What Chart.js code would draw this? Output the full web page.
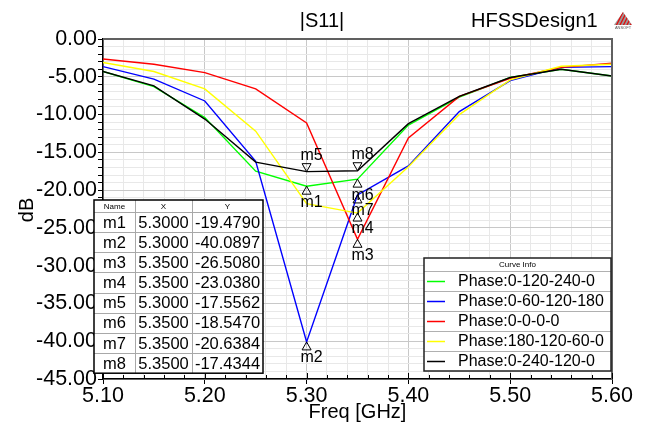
<!DOCTYPE html>
<html>
<head>
<meta charset="utf-8">
<script src="https://cdn.jsdelivr.net/npm/chart.js@4.4.1/dist/chart.umd.min.js"></script>
<style>
  html, body { margin: 0; padding: 0; background: #fff; }
  #wrap { width: 652px; height: 428px; }
</style>
</head>
<body>
<div id="wrap"><canvas id="s11Chart" width="652" height="428"></canvas></div>
<script>
// frequency sweep (GHz)
const freqs = [5.10, 5.15, 5.20, 5.25, 5.30, 5.35, 5.40, 5.45, 5.50, 5.55, 5.60];

// |S11| in dB for each phase setting
const phase0_120_240_0 = [-4.3, -6.3, -10.4, -17.5, -19.479, -18.547, -11.4, -7.7, -5.1, -4.0, -4.9];
const phase0_60_120_180 = [-3.66, -5.3, -8.2, -16.2, -40.0897, -20.6384, -16.8, -9.6, -5.5, -3.75, -3.65];
const phase0_0_0_0 = [-2.65, -3.35, -4.45, -6.6, -11.1, -26.508, -13.1, -7.6, -5.2, -3.75, -3.2];
const phase180_120_60_0 = [-3.1, -4.3, -6.6, -12.2, -21.8, -23.038, -16.9, -10.0, -5.4, -3.6, -3.35];
const phase0_240_120_0 = [-4.3, -6.2, -10.6, -16.3, -17.5562, -17.4344, -11.2, -7.6, -5.1, -4.0, -4.9];

const seriesLabels = ["Phase:0-120-240-0", "Phase:0-60-120-180", "Phase:0-0-0-0", "Phase:180-120-60-0", "Phase:0-240-120-0"];
const seriesColors = ["#00ff00", "#0000ff", "#ff0000", "#ffff00", "#000000"];

// markers (name, freq, value, drawn above the curve or below)
const markerNames = ["m1", "m2", "m3", "m4", "m5", "m6", "m7", "m8"];
const markerFreqs = [5.30, 5.30, 5.35, 5.35, 5.30, 5.35, 5.35, 5.35];
const markerValues = [-19.4790, -40.0897, -26.5080, -23.0380, -17.5562, -18.5470, -20.6384, -17.4344];
const markerAbove = [false, false, false, false, true, false, false, true];

// axis ranges
const xMin = 5.10, xMax = 5.60, xMinorStep = 0.02;
const yMin = -45, yMax = 0, yMinorStep = 1;

const FONT = 'Arial, "Liberation Sans", sans-serif';

function isMajorX(v) {
  return Math.abs(v * 10 - Math.round(v * 10)) < 1e-6;
}
function isMajorY(v) {
  return Math.abs(v / 5 - Math.round(v / 5)) < 1e-6;
}

const allSeries = [phase0_120_240_0, phase0_60_120_180, phase0_0_0_0, phase180_120_60_0, phase0_240_120_0];

const datasets = allSeries.map((vals, i) => ({
  label: seriesLabels[i],
  data: freqs.map((f, k) => ({ x: f, y: vals[k] })),
  borderColor: seriesColors[i],
  backgroundColor: seriesColors[i],
  borderWidth: 1.4,
  pointRadius: 0,
  tension: 0,
  fill: false,
  order: allSeries.length - i, // later curves drawn on top
}));

// frame, titles, markers, marker table and curve info box
const decorPlugin = {
  id: "decor",
  afterDatasetsDraw(chart) {
    const { ctx, chartArea, scales } = chart;
    const x = scales.x, y = scales.y;

    // top / right frame
    ctx.save();
    ctx.strokeStyle = "#606060";
    ctx.lineWidth = 2;
    ctx.beginPath();
    ctx.moveTo(chartArea.left, chartArea.top);
    ctx.lineTo(chartArea.right, chartArea.top);
    ctx.lineTo(chartArea.right, chartArea.bottom);
    ctx.stroke();

    // x ticks point into the plot
    ctx.strokeStyle = "#000";
    ctx.lineWidth = 1;
    ctx.beginPath();
    x.ticks.forEach((t) => {
      const px = Math.round(x.getPixelForValue(t.value)) + 0.5;
      ctx.moveTo(px, chartArea.bottom);
      ctx.lineTo(px, chartArea.bottom - (isMajorX(t.value) ? 6 : 4));
    });
    ctx.stroke();

    // markers
    ctx.fillStyle = "#000";
    ctx.font = "16px " + FONT;
    ctx.textAlign = "center";
    ctx.textBaseline = "middle";
    markerNames.forEach((name, i) => {
      const px = x.getPixelForValue(markerFreqs[i]);
      const py = y.getPixelForValue(markerValues[i]);
      const dir = markerAbove[i] ? -1 : 1;
      ctx.beginPath();
      ctx.moveTo(px, py);
      ctx.lineTo(px - 4.5, py + dir * 8);
      ctx.lineTo(px + 4.5, py + dir * 8);
      ctx.closePath();
      ctx.stroke();
      ctx.fillText(name, px + 5, py + dir * 16);
    });
    ctx.restore();

    drawMarkerTable(ctx);
    drawCurveInfo(ctx, chart);
  },
  afterDraw(chart) {
    const ctx = chart.ctx;
    ctx.save();
    ctx.fillStyle = "#000";
    ctx.font = "20px " + FONT;
    ctx.textBaseline = "alphabetic";
    ctx.textAlign = "center";
    ctx.fillText("|S11|", 322, 27);
    ctx.textAlign = "left";
    ctx.fillText("HFSSDesign1", 471, 27);

    // axis titles
    ctx.textAlign = "center";
    ctx.textBaseline = "middle";
    ctx.fillText("Freq [GHz]", (chart.chartArea.left + chart.chartArea.right) / 2, 412);
    ctx.translate(27, 210);
    ctx.rotate(-Math.PI / 2);
    ctx.fillText("dB", 0, 0);
    ctx.restore();

    drawLogo(ctx);
  },
};

function drawLogo(ctx) {
  ctx.save();
  ctx.beginPath();
  ctx.moveTo(623, 12);
  ctx.lineTo(614, 25);
  ctx.lineTo(632, 25);
  ctx.closePath();
  ctx.fillStyle = "#9a9a9a";
  ctx.fill();
  ctx.clip();
  ctx.strokeStyle = "#e01010";
  ctx.lineWidth = 1.3;
  for (let k = 0; k < 6; k++) {
    ctx.beginPath();
    ctx.moveTo(612 + k * 3.5, 27);
    ctx.lineTo(620 + k * 3.5, 11);
    ctx.stroke();
  }
  ctx.restore();
  ctx.save();
  ctx.fillStyle = "#555";
  ctx.font = "4px " + FONT;
  ctx.textAlign = "center";
  ctx.fillText("ANSOFT", 623, 29);
  ctx.restore();
}

function drawMarkerTable(ctx) {
  const cols = [94, 135, 192, 263];
  const top = 200, headH = 12, rowH = 20.15;
  const bottom = top + headH + rowH * markerNames.length;
  ctx.save();
  ctx.fillStyle = "#fff";
  ctx.fillRect(cols[0], top, cols[3] - cols[0], bottom - top);

  // inner lines
  ctx.strokeStyle = "#a8a8a8";
  ctx.lineWidth = 1;
  ctx.beginPath();
  for (let c = 1; c < 3; c++) {
    ctx.moveTo(cols[c] + 0.5, top);
    ctx.lineTo(cols[c] + 0.5, bottom);
  }
  for (let r = 0; r < markerNames.length; r++) {
    const ry = Math.round(top + headH + r * rowH) + 0.5;
    ctx.moveTo(cols[0], ry);
    ctx.lineTo(cols[3], ry);
  }
  ctx.stroke();

  ctx.strokeStyle = "#000";
  ctx.lineWidth = 1.5;
  ctx.strokeRect(cols[0], top, cols[3] - cols[0], bottom - top);

  ctx.fillStyle = "#000";
  ctx.textAlign = "center";
  ctx.textBaseline = "middle";
  ctx.font = "8px " + FONT;
  const heads = ["Name", "X", "Y"];
  heads.forEach((h, c) => ctx.fillText(h, (cols[c] + cols[c + 1]) / 2, top + headH / 2 + 0.5));

  ctx.font = "16.5px " + FONT;
  markerNames.forEach((name, r) => {
    const cy = top + headH + r * rowH + rowH / 2 + 1;
    const cells = [name, markerFreqs[r].toFixed(4), markerValues[r].toFixed(4)];
    cells.forEach((t, c) => ctx.fillText(t, (cols[c] + cols[c + 1]) / 2, cy));
  });
  ctx.restore();
}

function drawCurveInfo(ctx, chart) {
  const left = 424, right = 611, top = 258, headH = 13, rowH = 20;
  const n = chart.data.datasets.length;
  const bottom = top + headH + rowH * n;
  ctx.save();
  ctx.fillStyle = "#fff";
  ctx.fillRect(left, top, right - left, bottom - top);

  ctx.strokeStyle = "#b0b0b0";
  ctx.lineWidth = 1;
  ctx.beginPath();
  for (let r = 0; r < n; r++) {
    const ry = Math.round(top + headH + r * rowH) + 0.5;
    ctx.moveTo(left, ry);
    ctx.lineTo(right, ry);
  }
  ctx.stroke();

  ctx.strokeStyle = "#202020";
  ctx.lineWidth = 1.5;
  ctx.strokeRect(left, top, right - left, bottom - top);

  ctx.fillStyle = "#000";
  ctx.textBaseline = "middle";
  ctx.textAlign = "center";
  ctx.font = "8px " + FONT;
  ctx.fillText("Curve Info", (left + right) / 2, top + headH / 2 + 0.5);

  ctx.font = "16px " + FONT;
  ctx.textAlign = "left";
  chart.data.datasets.forEach((ds, r) => {
    const cy = top + headH + r * rowH + rowH / 2 + 0.5;
    ctx.strokeStyle = ds.borderColor;
    ctx.lineWidth = 1.5;
    ctx.beginPath();
    ctx.moveTo(427, cy);
    ctx.lineTo(445, cy);
    ctx.stroke();
    ctx.fillText(ds.label, 458, cy + 0.5);
  });
  ctx.restore();
}

const ctx = document.getElementById("s11Chart").getContext("2d");
const s11Chart = new Chart(ctx, {
  type: "line",
  data: { datasets: datasets },
  options: {
    responsive: false,
    animation: false,
    devicePixelRatio: 1,
    layout: { padding: { left: 0, top: 39, right: 40, bottom: 0 } },
    plugins: {
      legend: { display: false },
      tooltip: { enabled: false },
      title: { display: false },
    },
    scales: {
      x: {
        type: "linear",
        min: xMin,
        max: xMax,
        afterFit: (scale) => { scale.height = 49; },
        border: { color: "#000", width: 1.5 },
        grid: {
          color: (c) => (c.tick && isMajorX(c.tick.value) ? "#c8c8c8" : "#e8e8e8"),
          tickColor: (c) => (c.tick && isMajorX(c.tick.value) ? "#000" : "rgba(0,0,0,0)"),
          tickLength: 5,
        },
        ticks: {
          stepSize: xMinorStep,
          maxTicksLimit: 1000,
          autoSkip: false,
          maxRotation: 0,
          padding: -1,
          color: "#000",
          font: { family: FONT, size: 21.5 },
          callback: (v) => (isMajorX(v) ? Number(v).toFixed(2) : ""),
        },
      },
      y: {
        min: yMin,
        max: yMax,
        afterFit: (scale) => { scale.width = 103; },
        border: { color: "#000", width: 1.5 },
        grid: {
          color: (c) => (c.tick && isMajorY(c.tick.value) ? "#c8c8c8" : "#e8e8e8"),
          tickColor: "#000",
          tickLength: 5,
        },
        ticks: {
          stepSize: yMinorStep,
          maxTicksLimit: 1000,
          autoSkip: false,
          padding: 1,
          color: "#000",
          font: { family: FONT, size: 21.5 },
          callback: (v) => (isMajorY(v) ? Number(v).toFixed(2) : ""),
        },
      },
    },
  },
  plugins: [decorPlugin],
});
</script>
</body>
</html>
